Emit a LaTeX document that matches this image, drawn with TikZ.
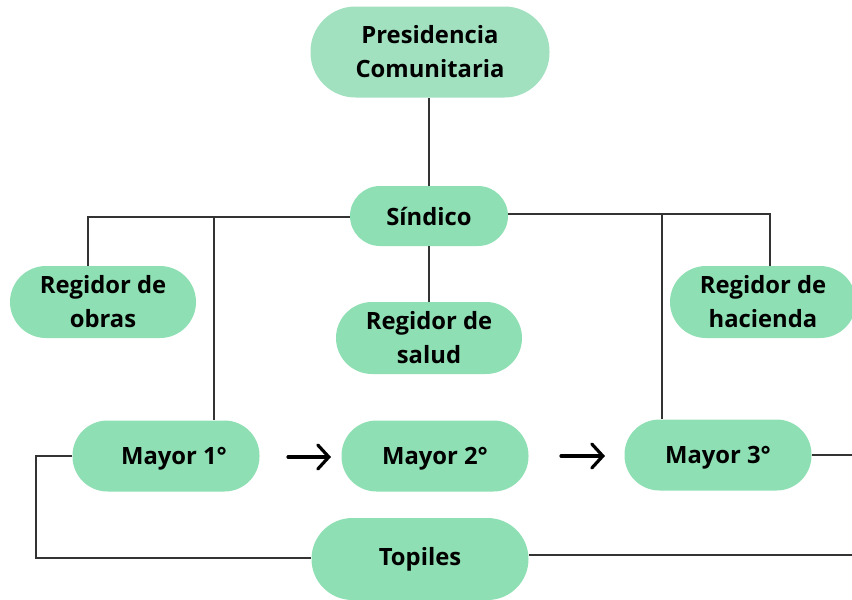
\documentclass[tikz,border=0pt]{standalone}
\usepackage{fontspec}
\setmainfont{Open Sans}
\usetikzlibrary{arrows.meta}
\definecolor{pillgreen}{HTML}{8EDFB3}
\definecolor{headgreen}{HTML}{A2E1BF}
\definecolor{wiregray}{HTML}{333333}

\begin{document}
\begin{tikzpicture}[x=1pt,y=-1pt,
  pill/.style={fill=pillgreen,rounded corners=36pt,minimum width=186pt,minimum height=72pt,
    inner sep=0pt,align=center,font=\fontsize{23.8}{34}\selectfont\bfseries},
  mayorbox/.style={pill,minimum width=187pt,minimum height=71pt,rounded corners=35pt,text depth=-3pt},
  wire/.style={draw=wiregray,line width=1.6pt},
  nextarrow/.style={draw=black,line width=3.2pt,line cap=round,
    -{Straight Barb[length=11pt,width=24pt,line cap=round]}}]
\useasboundingbox (0,0) rectangle (852,600);
    % Boxes
\node[pill,fill=headgreen,minimum width=239pt,minimum height=91pt,rounded corners=45pt] (presidencia) at (430,52) {Presidencia\\Comunitaria};
\node[pill,minimum width=158pt,minimum height=60pt,rounded corners=30pt] (sindico) at (429,216) {Síndico};
\node[pill] (obras) at (103,302) {Regidor de\\obras};
\node[pill] (salud) at (429,338) {Regidor de\\salud};
\node[pill] (hacienda) at (763,302) {Regidor de\\hacienda};
\node[mayorbox] (mayor1) at (166,456) {\hspace*{16pt}Mayor 1°};
\node[mayorbox] (mayor2) at (435,456) {Mayor 2°};
\node[mayorbox] (mayor3) at (718,455) {Mayor 3°};
\node[pill,minimum width=217pt,minimum height=82pt,rounded corners=41pt] (topiles) at (420,559) {Topiles};
    % Free ends at the right border
\coordinate (edge3) at (852,455);
\coordinate (edgeT) at (852,555);
    % Lines
\draw[wire] (presidencia.south -| sindico.north) -- (sindico.north);
\draw[wire] (sindico.south) -- (salud.north);
\draw[wire] (sindico.west |- 0,217) -- (88,217) -- (obras.north -| 88,0);
\draw[wire] (214,217) -- (mayor1.north -| 214,0);
\draw[wire] (sindico.east |- 0,214) -- (770,214) -- (hacienda.north -| 770,0);
\draw[wire] (662,214) -- (mayor3.north -| 662,0);
\draw[wire] (mayor1.west) -- (36,456) -- (36,558) -- (topiles.west |- 0,558);
\draw[wire] (mayor3.east) -- (edge3);
\draw[wire] (topiles.east |- edgeT) -- (edgeT);
    % Succession
\coordinate (a1) at (288,457);
\coordinate (b1) at (331,457);
\coordinate (a2) at (561,456);
\coordinate (b2) at (605,456);
\draw[nextarrow] (a1) -- (b1);
\draw[nextarrow] (a2) -- (b2);
\end{tikzpicture}
\end{document}
